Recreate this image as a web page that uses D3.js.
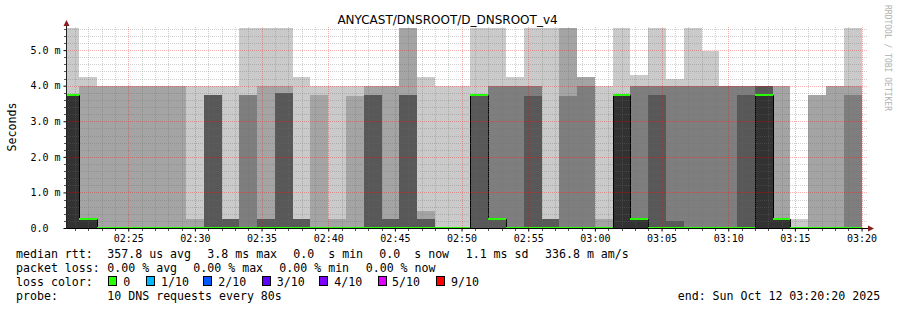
<!DOCTYPE html>
<html>
<head>
<meta charset="utf-8">
<script src="https://cdn.jsdelivr.net/npm/d3@7"></script>
<style>
  body { margin: 0; background: #fff; }
  text { font-family: "DejaVu Sans Mono", monospace; }
</style>
</head>
<body>
<svg id="chart" width="897" height="310"></svg>
<script>
// smokeping data, 10 sorted pings per 80s step (values in ms)
const T = 5.63;
const stepEnds = ["02:21:20","02:22:40","02:24:00","02:25:20","02:26:40","02:28:00","02:29:20","02:30:40","02:32:00",
  "02:33:20","02:34:40","02:36:00","02:37:20","02:38:40","02:40:00","02:41:20","02:42:40","02:44:00","02:45:20",
  "02:46:40","02:48:00","02:49:20","02:50:40","02:52:00","02:53:20","02:54:40","02:56:00","02:57:20","02:58:40",
  "03:00:00","03:01:20","03:02:40","03:04:00","03:05:20","03:06:40","03:08:00","03:09:20","03:10:40","03:12:00",
  "03:13:20","03:14:40","03:16:00","03:17:20","03:18:40","03:20:00"];

const ping1 = [0,0,0,0,0,0,0,0,0,0,0,0,0,0,0,0,0,0,0,0,0,0,0,0,0,0,0,0,0,0,0,0,0,0,0,0,0,0,0,0,0,0,0,0,0];
const ping2 = [0,0,0,0,0,0,0,0,0,0,0,0,0,0,0,0,0,0,0,0,0,0,0,0,0,0,0,0,0,0,0,0,0,0,0,0,0,0,0,0,0,0,0,0,0];
const ping3 = [0,0,0,0,0,0,0,0,0,0,0,0,0,0,0,0,0,0,0,0,0,0,0,0,0,0,0,0,0,0,0,0,0,0,0,0,0,0,0,0,0,0,0,0,0];
const ping4 = [0,0,0,0,0,0,0,0,0,0,0,0,0,0,0,0,0,0,0,0,0,0,0,0,0,0,0,0,0,0,0,0,0,0,0,0,0,0,0,0,0,0,0,0,0];
const ping5 = [0,0,0,0,0,0,0,0,0,0,0,0,0,0,0,0,0,0,0,0,0,0,0,3.75,0.25,0,0,0,0,0,0,0,0,0,0,0,0,0,0,0,0,0,0,0,0];
const ping6 = [3.75,0.25,0,0,0,0,0,0,0,0,0,0,0,0,0,0,0,0,0,0,0,0,0,3.75,0.25,0,0,0,0,0,0,3.75,0.25,0,0,0,0,0,0,3.75,0.25,0,0,0,0];
const ping7 = [3.75,0.25,0,0,0,0,0,0,3.75,0.25,0,0.25,3.8,0.25,0,0,0,3.75,0.25,3.75,0.25,0,0,3.75,0.25,0,3.7,0.25,0,0,0,3.75,0.25,3.75,0.2,0,0,0,3.75,4.0,0.25,0,0,0,0];
const ping8 = [3.75,0.25,0,0,0,0,0,0,3.75,0.25,3.75,0.25,3.8,0.25,0,0,0,3.75,0.25,3.75,0.25,0,0,3.75,4.0,4.0,4.0,0.25,3.7,4.0,0,3.75,4.0,4.0,4.0,4.0,4.0,4.0,4.0,4.0,0.25,0,0,0,3.75];
const ping9 = [3.75,4.0,4.0,4.0,4.0,4.0,4.0,0.25,3.75,0.25,3.75,4.0,4.0,0.25,3.75,0.25,3.7,4.0,4.0,T,0.48,0,0,3.75,4.0,4.0,4.0,0.25,T,4.25,0.25,3.75,4.0,4.0,4.0,4.0,4.0,4.0,4.0,4.0,4.0,0,3.75,4.0,4.0];
const ping10 = [T,4.25,4.0,4.0,4.0,4.0,4.0,4.0,4.0,4.0,T,T,T,4.25,4.0,4.0,4.0,4.0,4.0,T,4.25,4.0,4.0,T,T,4.25,T,T,T,4.25,4.0,T,4.3,T,4.2,T,4.98,4.0,4.0,4.0,4.0,0.25,3.75,4.0,T];
const median = [3.75,0.25,0,0,0,0,0,0,0,0,0,0,0,0,0,0,0,0,0,0,0,0,0,3.75,0.25,0,0,0,0,0,0,3.75,0.25,0,0,0,0,0,0,3.75,0.25,0,0,0,0];

const timeLabels = ["02:25","02:30","02:35","02:40","02:45","02:50","02:55","03:00","03:05","03:10","03:15","03:20"];
const msTicks = [0, 1, 2, 3, 4, 5];
const lossLabels = ["0", "1/10", "2/10", "3/10", "4/10", "5/10", "9/10"];
const lossColors = ["#26ff00", "#00b8ff", "#0059ff", "#5e00ff", "#7e00ff", "#dd00ff", "#ff0000"];

const svg = d3.select("#chart");
const parse = s => new Date("2025-10-12T" + (s.length == 5 ? s + ":00" : s) + "Z");
const stepMs = 80 * 1000;

const x = d3.scaleUtc().domain([parse("02:20:20"), parse("03:20:20")]).range([66, 866]);
const y = d3.scaleLinear().domain([0, 5.65]).range([228, 27]);

svg.append("defs").append("clipPath").attr("id", "plot")
  .append("rect").attr("x", 66).attr("y", 27).attr("width", 800).attr("height", 201);

const g = svg.append("g").attr("clip-path", "url(#plot)");

// smoke: band i spans ping(i) .. ping(11-i), darker towards the middle
const pings = [ping1, ping2, ping3, ping4, ping5, ping6, ping7, ping8, ping9, ping10];
for (let b = 0; b < 5; b++) {
  const lo = pings[b], hi = pings[9 - b];
  const c = Math.floor(190 / 5 * (4 - b)) + 50;
  g.append("g").selectAll("rect")
    .data(stepEnds)
    .enter()
    .append("rect")
    .attr("shape-rendering", "crispEdges")
    .attr("x", d => x(new Date(parse(d) - stepMs)))
    .attr("width", d => x(parse(d)) - x(new Date(parse(d) - stepMs)))
    .attr("y", (d, i) => y(hi[i]))
    .attr("height", (d, i) => y(lo[i]) - y(hi[i]))
    .attr("fill", d3.rgb(c, c, c));
}

// median: thin black step line with a loss coloured band on top
const medPts = stepEnds.map((d, i) => [new Date(parse(d) - stepMs), median[i]]);
medPts.push([parse(stepEnds[stepEnds.length - 1]), median[median.length - 1]]);
g.append("path")
  .attr("d", d3.line().x(d => Math.round(x(d[0])) + 0.5).y(d => Math.round(y(d[1])) + 0.5).curve(d3.curveStepAfter)(medPts))
  .attr("fill", "none").attr("stroke", "#000").attr("stroke-width", 1);
g.append("g").selectAll("rect")
  .data(stepEnds)
  .enter()
  .append("rect")
  .attr("shape-rendering", "crispEdges")
  .attr("x", d => x(new Date(parse(d) - stepMs)))
  .attr("width", d => x(parse(d)) - x(new Date(parse(d) - stepMs)))
  .attr("y", (d, i) => y(median[i]) - 1)
  .attr("height", 2)
  .attr("fill", lossColors[0]);

// grid
const minorCol = "rgba(110,110,110,0.32)", majorCol = "rgba(255,0,0,0.3)";
const grid = svg.append("g").attr("stroke-dasharray", "1,1").attr("shape-rendering", "crispEdges");
const minorY = d3.range(1, 29).map(k => +(k * 0.2).toFixed(1)).filter(v => v % 1 != 0);
grid.selectAll(".my").data(minorY).enter().append("line")
  .attr("x1", 66).attr("x2", 868)
  .attr("y1", d => Math.round(y(d)) + 0.5).attr("y2", d => Math.round(y(d)) + 0.5)
  .attr("stroke", minorCol);
const minorX = x.ticks(d3.utcMinute.every(1)).filter(d => d.getUTCMinutes() % 5 != 0);
grid.selectAll(".mx").data(minorX).enter().append("line")
  .attr("x1", d => Math.round(x(d)) + 0.5).attr("x2", d => Math.round(x(d)) + 0.5)
  .attr("y1", 27).attr("y2", 228)
  .attr("stroke", minorCol);
grid.selectAll(".My").data(msTicks.slice(1)).enter().append("line")
  .attr("x1", 66).attr("x2", 868)
  .attr("y1", d => Math.round(y(d)) + 0.5).attr("y2", d => Math.round(y(d)) + 0.5)
  .attr("stroke", majorCol);
grid.selectAll(".Mx").data(timeLabels).enter().append("line")
  .attr("x1", d => Math.round(x(parse(d))) + 0.5).attr("x2", d => Math.round(x(parse(d))) + 0.5)
  .attr("y1", 27).attr("y2", 228)
  .attr("stroke", majorCol);

// small axis ticks at the minor grid
const ticks = svg.append("g").attr("stroke", "#555").attr("shape-rendering", "crispEdges");
ticks.selectAll(".ty").data(minorY).enter().append("line")
  .attr("x1", 64).attr("x2", 66)
  .attr("y1", d => Math.round(y(d)) + 0.5).attr("y2", d => Math.round(y(d)) + 0.5);
ticks.selectAll(".tx").data(minorX).enter().append("line")
  .attr("x1", d => Math.round(x(d)) + 0.5).attr("x2", d => Math.round(x(d)) + 0.5)
  .attr("y1", 229).attr("y2", 231);

// axes
const yAxis = svg.append("g").attr("transform", "translate(66.5,0)")
  .call(d3.axisLeft(y).tickValues(msTicks).tickSize(3).tickPadding(3)
    .tickFormat(d => d == 0 ? "0.0" : d.toFixed(1) + " m"));
yAxis.select(".domain").remove();
yAxis.selectAll("text").attr("font-family", "DejaVu Sans Mono").attr("font-size", 10).attr("fill", "#000")
  .attr("dx", d => d == 0 ? -12 : 0);

const xAxis = svg.append("g").attr("transform", "translate(0,228.5)")
  .call(d3.axisBottom(x).tickValues(timeLabels.map(parse)).tickSize(3).tickPadding(3)
    .tickFormat(d3.utcFormat("%H:%M")));
xAxis.select(".domain").remove();
xAxis.selectAll("text").attr("font-family", "DejaVu Sans Mono").attr("font-size", 10).attr("fill", "#000");

svg.append("line").attr("x1", 66).attr("x2", 869).attr("y1", 228.5).attr("y2", 228.5).attr("stroke", "#000");
svg.append("line").attr("x1", 66.5).attr("x2", 66.5).attr("y1", 229).attr("y2", 24).attr("stroke", "#222");
svg.append("path").attr("d", "M63.5,26L69.5,26L66.5,20Z").attr("fill", "#8b1c1c");
svg.append("path").attr("d", "M868,225.5L868,231.5L874,228.5Z").attr("fill", "#8b1c1c");

// titles
svg.append("text").attr("x", 447.5).attr("y", 24).attr("text-anchor", "middle")
  .style("font-family", "'DejaVu Sans', sans-serif").attr("font-size", 12)
  .text("ANYCAST/DNSROOT/D_DNSROOT_v4");
svg.append("text").attr("transform", "translate(15.5,127) rotate(-90)").attr("text-anchor", "middle")
  .attr("font-size", 11.6).text("Seconds");
svg.append("text").attr("transform", "translate(885,5) rotate(90)")
  .attr("font-size", 8).attr("fill", "#b0b0b0").text("RRDTOOL / TOBI OETIKER");

// legend (non-breaking spaces keep the double gaps)
const nb = s => s.replace(/ /g, "\u00a0");
const legend = svg.append("g").attr("font-size", 11.6);
const legendRows = [
  [258, [[16, "median rtt:"], [107.3, "357.8 us avg"], [207.3, "3.8 ms max"], [293.3, "0.0  s min"],
         [379.3, "0.0  s now"], [465.7, "1.1 ms sd"], [545, "336.8 m am/s"]]],
  [272, [[16, "packet loss:"], [107.3, "0.00 % avg"], [193.3, "0.00 % max"], [279.3, "0.00 % min"], [365.7, "0.00 % now"]]],
  [286, [[16, "loss color:"]]],
  [300, [[16, "probe:"], [107.3, "10 DNS requests every 80s"], [677.7, "end: Sun Oct 12 03:20:20 2025"]]]
];
legendRows.forEach(([yy, items]) => {
  items.forEach(([xx, t]) => legend.append("text").attr("x", xx).attr("y", yy).text(nb(t)));
});
const boxX = [108.5, 146.5, 203.5, 262.5, 319.5, 378.5, 436.5];
const labX = [123.3, 161, 218.3, 276.7, 334.3, 392, 451];
lossLabels.forEach((l, i) => {
  legend.append("rect").attr("x", boxX[i]).attr("y", 276.5).attr("width", 8).attr("height", 9)
    .attr("fill", lossColors[i]).attr("stroke", "#000");
  legend.append("text").attr("x", labX[i]).attr("y", 286).text(l);
});
</script>
</body>
</html>
